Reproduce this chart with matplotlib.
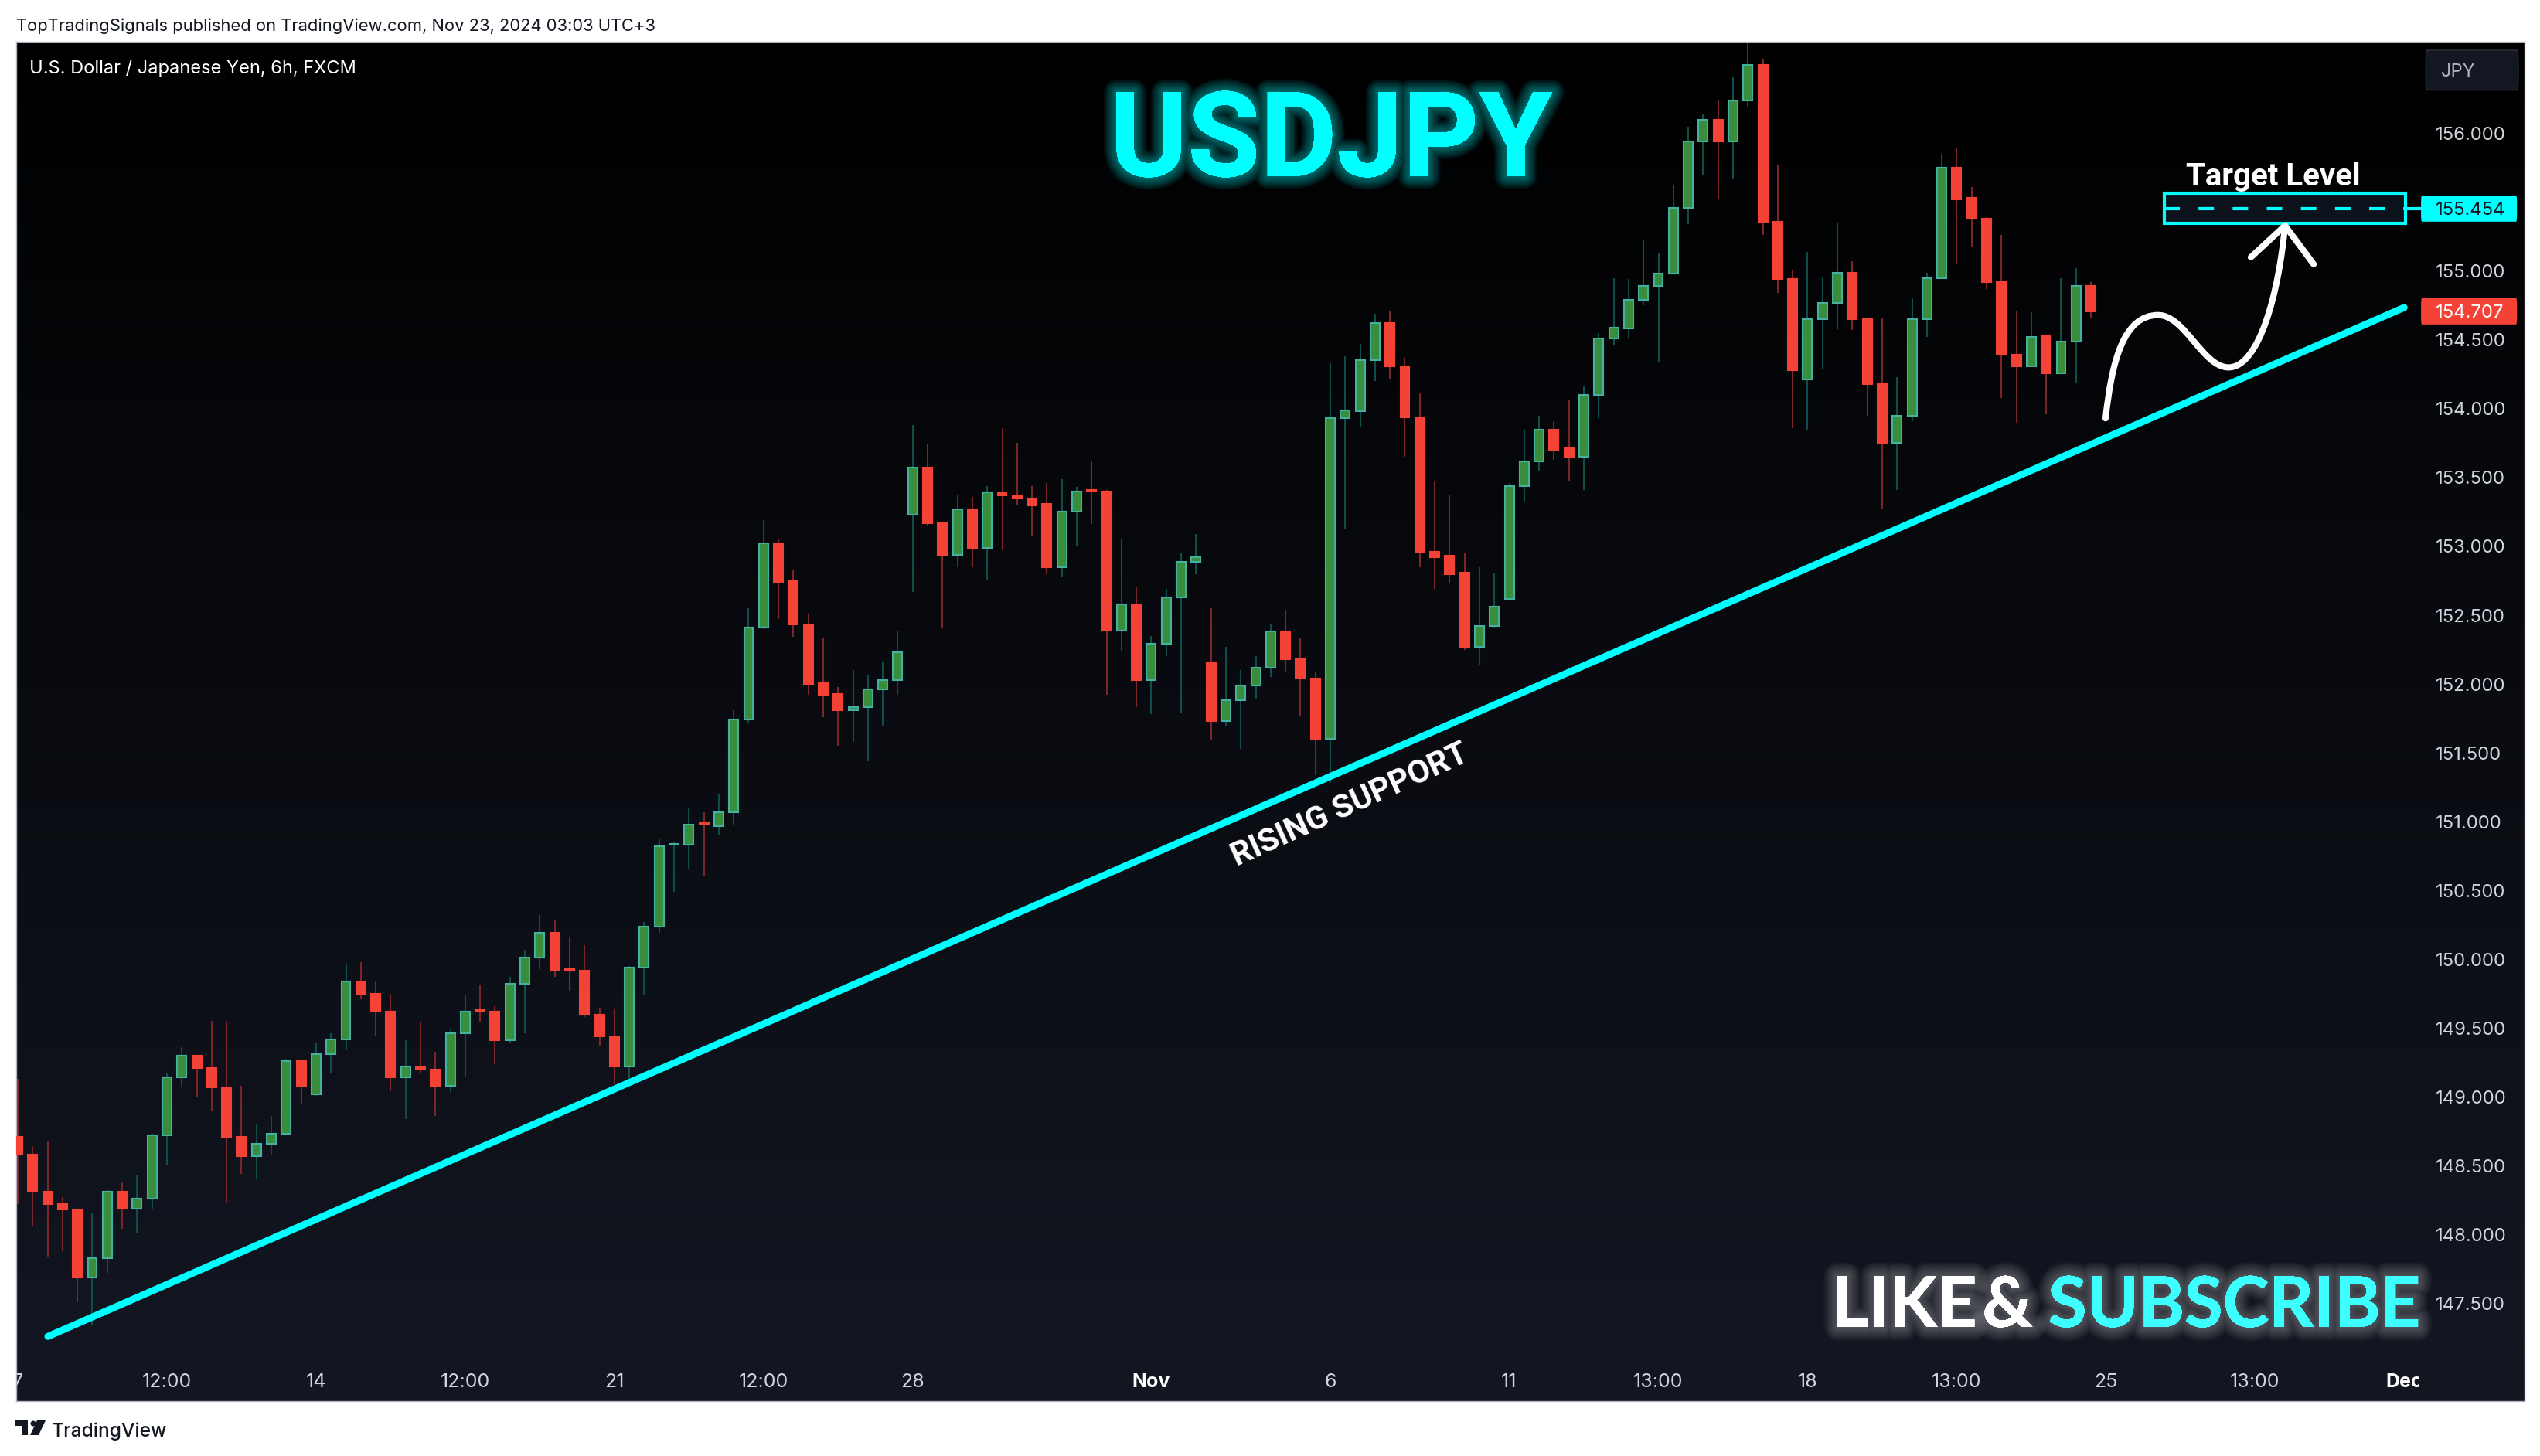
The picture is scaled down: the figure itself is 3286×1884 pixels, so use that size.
import numpy as np
import matplotlib
matplotlib.use('Agg')
import matplotlib.pyplot as plt
import matplotlib.patheffects as pe
from matplotlib.patches import Rectangle, FancyBboxPatch, PathPatch, Polygon, Circle
from matplotlib.path import Path
from matplotlib.transforms import Bbox

# USDJPY 6h candles
opens = [148.71,148.58,148.31,148.22,148.18,147.69,147.83,148.31,148.19,148.26,
         148.72,149.14,149.30,149.21,149.07,148.71,148.57,148.66,148.73,149.26,
         149.02,149.31,149.42,149.84,149.75,149.62,149.14,149.22,149.20,149.08,
         149.46,149.63,149.62,149.41,149.82,150.01,150.19,149.93,149.92,149.60,
         149.44,149.22,149.94,150.24,150.83,150.83,150.99,150.97,151.07,151.74,
         152.41,153.02,152.75,152.43,152.01,151.93,151.81,151.83,151.96,152.03,
         153.23,153.57,153.17,152.94,153.27,152.99,153.39,153.37,153.35,153.31,
         152.85,153.25,153.41,153.40,152.39,152.58,152.03,152.29,152.63,152.89,
         152.16,151.73,151.88,151.99,152.12,152.38,152.18,152.04,151.60,153.93,
         153.98,154.35,154.62,154.31,153.94,152.96,152.93,152.81,152.27,152.42,
         152.62,153.44,153.62,153.85,153.71,153.65,154.10,154.51,154.585,154.79,
         154.89,154.98,155.46,155.94,156.10,155.94,156.24,156.50,155.36,154.94,
         154.21,154.65,154.77,154.99,154.65,154.18,153.75,153.95,154.65,154.95,
         155.75,155.53,155.38,154.92,154.39,154.31,154.53,154.26,154.49,154.89]
closes = [148.58,148.31,148.22,148.18,147.69,147.83,148.31,148.19,148.26,148.72,
          149.14,149.30,149.21,149.07,148.71,148.57,148.66,148.73,149.26,149.08,
          149.31,149.42,149.84,149.75,149.62,149.14,149.22,149.20,149.08,149.46,
          149.62,149.62,149.41,149.82,150.01,150.19,149.92,149.92,149.60,149.44,
          149.22,149.94,150.24,150.82,150.84,150.98,150.98,151.07,151.74,152.41,
          153.02,152.74,152.43,152.00,151.92,151.81,151.83,151.96,152.03,152.23,
          153.57,153.17,152.94,153.27,152.99,153.39,153.37,153.35,153.30,152.85,
          153.25,153.40,153.40,152.39,152.58,152.03,152.29,152.63,152.89,152.92,
          151.73,151.88,151.99,152.12,152.38,152.18,152.04,151.60,153.93,153.99,
          154.35,154.62,154.31,153.94,152.96,152.92,152.80,152.27,152.42,152.56,
          153.44,153.62,153.85,153.70,153.65,154.10,154.51,154.59,154.79,154.89,
          154.98,155.46,155.94,156.10,155.94,156.24,156.50,155.36,154.94,154.28,
          154.65,154.77,154.99,154.65,154.18,153.75,153.95,154.65,154.95,155.75,
          155.52,155.38,154.92,154.39,154.31,154.52,154.26,154.49,154.89,154.707]
highs = [149.13,148.64,148.68,148.27,148.19,148.16,148.33,148.38,148.43,148.73,
         149.17,149.36,149.30,149.55,149.55,149.08,148.80,148.86,149.28,149.27,
         149.39,149.46,149.96,149.98,149.84,149.75,149.41,149.54,149.33,149.49,
         149.74,149.81,149.66,149.87,150.07,150.32,150.28,150.16,150.10,149.65,
         149.64,149.95,150.27,150.88,150.85,151.10,151.07,151.20,151.81,152.55,
         153.19,153.05,152.83,152.51,152.33,151.98,152.10,152.06,152.16,152.38,
         153.88,153.74,153.18,153.37,153.36,153.44,153.86,153.75,153.44,153.46,
         153.49,153.43,153.62,153.41,153.05,152.71,152.35,152.69,152.95,153.09,
         152.55,152.27,152.10,152.20,152.44,152.54,152.33,152.09,154.33,154.38,
         154.47,154.69,154.71,154.37,154.11,153.47,153.37,152.95,152.85,152.81,
         153.46,153.85,153.95,153.91,154.06,154.16,154.55,154.95,154.94,155.23,
         155.13,155.62,156.05,156.14,156.24,156.41,156.66,156.54,155.77,155.01,
         155.14,154.96,155.35,155.07,154.66,154.66,154.23,154.80,154.99,155.85,
         155.89,155.61,155.39,155.26,154.71,154.70,154.53,154.95,155.02,154.92]
lows = [148.22,148.06,147.84,147.88,147.51,147.34,147.72,148.04,148.01,148.19,
        148.51,149.07,149.00,148.90,148.23,148.44,148.40,148.58,148.72,148.95,
        149.01,149.17,149.34,149.71,149.44,149.04,148.84,149.17,148.86,149.03,
        149.14,149.54,149.24,149.39,149.46,149.93,149.87,149.77,149.58,149.37,
        149.09,149.08,149.74,150.19,150.49,150.66,150.61,150.90,150.98,151.72,
        152.40,152.47,152.34,151.92,151.76,151.55,151.58,151.44,151.69,151.92,
        152.67,153.15,152.41,152.85,152.85,152.75,152.97,153.30,153.07,152.80,
        152.78,153.00,153.16,151.92,152.24,151.83,151.78,152.20,151.79,152.80,
        151.59,151.69,151.53,151.89,152.05,152.09,151.77,151.34,151.28,153.13,
        153.87,154.20,154.22,153.65,152.85,152.69,152.73,152.25,152.14,152.41,
        152.61,153.32,153.55,153.63,153.47,153.41,153.93,154.46,154.51,154.75,
        154.34,154.98,155.34,155.70,155.52,155.67,156.19,155.26,154.84,153.86,
        153.84,154.29,154.58,154.57,153.95,153.27,153.41,153.91,154.52,154.94,
        155.05,155.18,154.87,154.08,153.90,154.31,153.96,154.25,154.19,154.66]

price_ticks = [147.5,148,148.5,149,149.5,150,150.5,151,151.5,152,152.5,153,153.5,154,154.5,155,156]
time_ticks = [0,10,20,30,40,50,60,76,88,100,110,120,130,140,150,160]
time_labels = ['7','12:00','14','12:00','21','12:00','28','Nov','6','11','13:00','18','13:00','25','13:00','Dec']

support_x = [2.02, 160.0]
support_y = [147.26, 154.735]
target_price = 155.454
last_price = 154.707

# hand drawn arrow, bezier control points
arrow_x = [139.98,140.4,141.2,143.5,145.3,146.5,148.22,150.3,151.6,152.01]
arrow_y = [153.93,154.35,154.68,154.68,154.68,154.30,154.30,154.30,154.85,155.33]
head_x = [149.72,152.01,153.93]
head_y = [155.10,155.33,155.05]

W, H = 3286, 1884
plt.rcParams['font.family'] = ['Inter', 'DejaVu Sans']
fig = plt.figure(figsize=(W/100, H/100), dpi=100, facecolor='white')
L, R, T, B = 21, 3266, 54, 1813
ax = fig.add_axes([L/W, 1-B/H, (R-L)/W, (B-T)/H])

# gradient background
grad = np.linspace(0, 1, 256).reshape(-1, 1)
img = np.zeros((256, 1, 3))
for k, c in enumerate((0x13, 0x17, 0x22)):
    img[:, :, k] = grad[:, :] * c / 255
ax.imshow(img, extent=(-0.104, 168.07, 146.79, 156.666), aspect='auto', zorder=0, origin='upper')
ax.set_xlim(-0.104, 168.07)
ax.set_ylim(146.79, 156.666)

idx = np.arange(len(opens))
o, c, h, l = map(np.array, (opens, closes, highs, lows))
up = c >= o
ax.vlines(idx[up], l[up], h[up], color='#0f4d49', lw=1.5, zorder=2)
ax.vlines(idx[~up], l[~up], h[~up], color='#7c2528', lw=1.5, zorder=2)
ax.bar(idx[up], (c-o)[up], bottom=o[up], width=0.62, color='#388e3c', edgecolor='#43b0a2', lw=1.5, zorder=3)
ax.bar(idx[~up], (o-c)[~up], bottom=c[~up], width=0.62, color='#f44336', edgecolor='#f44336', lw=1.5, zorder=3)

ax.plot(support_x, support_y, color='#00ffff', lw=6.5, solid_capstyle='round', zorder=4)
ax.text(89.3, 151.12, 'RISING SUPPORT', color='white', fontsize=30, fontweight='bold', rotation=24.4,
        rotation_mode='anchor', ha='center', va='center', family='Roboto', zorder=5)

# target box
ax.add_patch(Rectangle((143.92, 155.347), 16.18, 0.219, fc='#0c121c', ec='#00ffff', lw=3, zorder=4))
ax.plot([143.92, 160.1], [target_price]*2, color='#00ffff', lw=3, dashes=(4.8, 5.8), zorder=5)
ax.plot([160.1, 161.1], [target_price]*2, color='#00ffff', lw=3, zorder=5)
ax.text(151.2, 155.62, 'Target Level', color='white', fontsize=29, fontweight='bold', ha='center', va='baseline',
        family='Roboto', zorder=5)

# white arrow
codes = [Path.MOVETO] + [Path.CURVE4]*9
ax.add_patch(PathPatch(Path(list(zip(arrow_x, arrow_y)), codes), fc='none', ec='white', lw=5.8,
                       capstyle='round', zorder=5))
ax.plot(head_x, head_y, color='white', lw=5.8, solid_capstyle='round', solid_joinstyle='round', zorder=5)

# price labels
ax.add_patch(FancyBboxPatch((161.13, target_price-0.095), 6.43, 0.19, boxstyle='round,pad=0,rounding_size=0.05',
                            fc='#00ffff', ec='none', mutation_aspect=1, zorder=6))
ax.add_patch(FancyBboxPatch((161.13, last_price-0.095), 6.43, 0.19, boxstyle='round,pad=0,rounding_size=0.05',
                            fc='#f44336', ec='none', mutation_aspect=1, zorder=6))
ax.text(162.1, target_price, '%.3f' % target_price, color='#131722', fontsize=17.2, va='center_baseline', zorder=7)
ax.text(162.1, last_price, '%.3f' % last_price, color='white', fontsize=17.2, va='center_baseline', zorder=7)

ax.yaxis.tick_right()
ax.set_yticks(price_ticks)
ax.set_yticklabels(['%.3f' % p for p in price_ticks])
ax.tick_params(axis='y', length=0, pad=-83, labelsize=17.2, labelcolor='#d1d4dc')
ax.set_xticks(time_ticks)
ax.set_xticklabels(time_labels)
ax.tick_params(axis='x', length=0, pad=-26, labelsize=18, labelcolor='#d1d4dc')
clip = Bbox([[L, 0], [3130, H]])
for t, lab in zip(ax.get_xticklabels(), time_labels):
    if lab in ('Nov', 'Dec'):
        t.set_fontweight('bold')
        t.set_color('white')
    t.set_zorder(8)
    t.set_clip_on(True)
    t.set_clip_box(clip)
ax.grid(False)
for s in ax.spines.values():
    s.set_color('#b2b5be')
    s.set_linewidth(1)

# JPY button
ax.add_patch(FancyBboxPatch((161.45, 156.315), 6.2, 0.29, boxstyle='round,pad=0,rounding_size=0.09',
                            fc='#131722', ec='#2a2e39', lw=1, zorder=6))
ax.text(162.45, 156.46, 'JPY', color='#b2b5be', fontsize=17, va='center_baseline', zorder=7)

# titles with glow
glow = [pe.withStroke(linewidth=w, foreground=(0, 1, 1, 0.045)) for w in range(24, 1, -2)]
ax.text(88.05, 155.69, 'USDJPY', color='#00ffff', fontsize=110, fontweight='bold', ha='center', va='baseline',
        family='Roboto', path_effects=glow, zorder=6)

white_glow = [pe.withStroke(linewidth=w, foreground=(1, 1, 1, 0.035)) for w in range(26, 1, -3)]
ax.text(121.64, 147.33, 'LIKE', color='white', fontsize=65, fontweight='bold', va='baseline', family='Lato',
        path_effects=white_glow, zorder=6)
ax.text(131.7, 147.33, '&', color='white', fontsize=65, fontweight='bold', va='baseline', family='Lato',
        path_effects=white_glow, zorder=6)
ax.text(136.15, 147.33, 'SUBSCRIBE', color='#3dffff', fontsize=65, fontweight='bold', va='baseline', family='Lato',
        path_effects=white_glow, zorder=6)

ax.text(0.8, 156.487, 'U.S. Dollar / Japanese Yen, 6h, FXCM', color='white', fontsize=17, va='center_baseline', zorder=7)

fig.text(21/W, 1-32/H, 'TopTradingSignals published on TradingView.com, Nov 23, 2024 03:03 UTC+3', color='#131722',
         fontsize=15.8, va='center_baseline')
fig.text(67/W, 1-1850/H, 'TradingView', color='#131722', fontsize=17.7, fontweight='medium', va='center_baseline')

# TradingView logo
def fp(x, y):
    return (x/W, 1-y/H)

logo = '#131722'
fig.add_artist(Polygon([fp(20, 1838), fp(36, 1838), fp(36, 1857), fp(28, 1857), fp(28, 1845), fp(20, 1845)],
                       closed=True, fc=logo, ec='none', transform=fig.transFigure))
fig.add_artist(Polygon([fp(48, 1838), fp(59, 1838), fp(50, 1857), fp(39, 1857)], closed=True, fc=logo, ec='none',
                       transform=fig.transFigure))
fig.add_artist(Circle((43, H-1842), 3.5, fc=logo, ec='none', transform=None))

fig.savefig('out.png', dpi=100)
